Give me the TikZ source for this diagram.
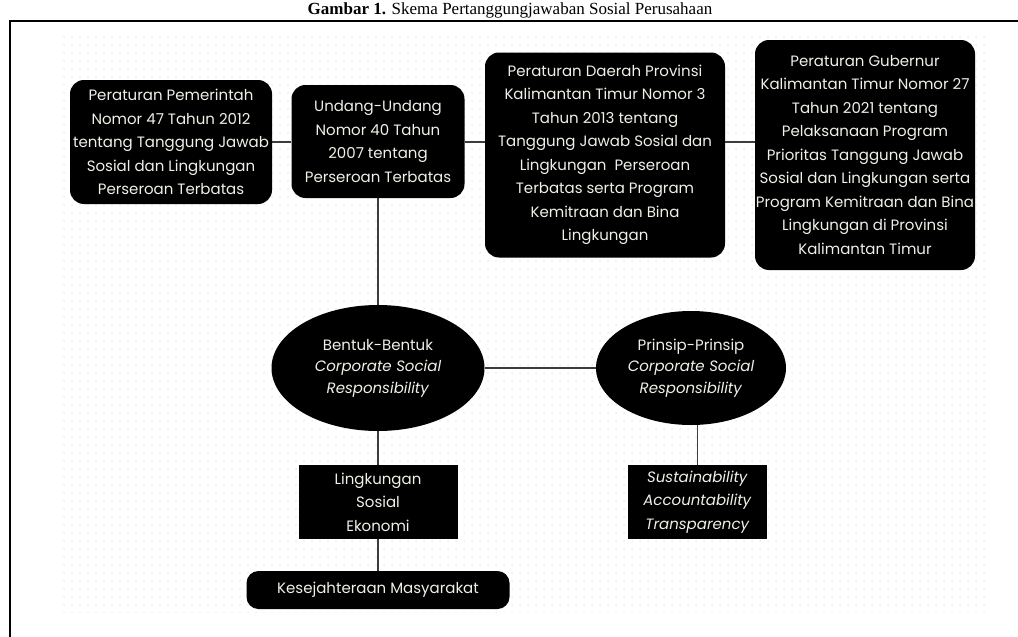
\documentclass[tikz,border=0pt]{standalone}
\usepackage{fontspec}
\setmainfont{Poppins}
\newfontfamily\titlefont{Liberation Serif}
\usepackage{tikz}
\usetikzlibrary{shapes.geometric,patterns.meta}
\definecolor{boxink}{RGB}{0,0,0}
\definecolor{boxtext}{RGB}{240,240,232}
\definecolor{link}{RGB}{60,60,60}
\definecolor{dotgray}{RGB}{220,220,220}

\begin{document}
\begin{tikzpicture}[x=1pt,y=1pt,
  rbox/.style={fill=boxink,text=boxtext,rounded corners=14pt,align=center,inner sep=0pt,
    font=\fontsize{15}{23.5}\selectfont},
  oval/.style={ellipse,fill=boxink,text=boxtext,align=center,inner sep=0pt,
    font=\fontsize{15}{21.5}\selectfont},
  sbox/.style={fill=boxink,text=boxtext,align=center,inner sep=0pt,
    font=\fontsize{15}{23.5}\selectfont},
  link/.style={draw=link,line width=1.4pt}]
\useasboundingbox (0,0) rectangle (1018,-637);
% title and frame
\node[anchor=base,font=\titlefont\fontsize{17}{20}\selectfont] (title) at (510,-14) {\textbf{Gambar 1.} Skema Pertanggungjawaban Sosial Perusahaan};
\draw[line width=2.5pt] (10,-637) |- (1018,-21);
\fill[pattern={Dots[distance=8pt,radius=0.75pt]},pattern color=dotgray] (60,-34) rectangle (990,-612);
% regulations
\node[rbox,minimum width=202,minimum height=124] (pp) at (171,-142)
  {Peraturan Pemerintah\\ Nomor 47 Tahun 2012\\ tentang Tanggung Jawab\\ Sosial dan Lingkungan\\ Perseroan Terbatas};
\node[rbox,minimum width=173,minimum height=113] (uu) at (378,-141.5)
  {Undang-Undang\\ Nomor 40 Tahun\\ 2007 tentang\\ Perseroan Terbatas};
\node[rbox,minimum width=240,minimum height=205] (perda) at (605,-155)
  {Peraturan Daerah Provinsi\\ Kalimantan Timur Nomor 3\\ Tahun 2013 tentang\\ Tanggung Jawab Sosial dan\\ Lingkungan\ \ Perseroan\\ Terbatas serta Program\\ Kemitraan dan Bina\\ Lingkungan};
\node[rbox,minimum width=220,minimum height=230] (pergub) at (865,-155)
  {Peraturan Gubernur\\ Kalimantan Timur Nomor 27\\ Tahun 2021 tentang\\ Pelaksanaan Program\\ Prioritas Tanggung Jawab\\ Sosial dan Lingkungan serta\\ Program Kemitraan dan Bina\\ Lingkungan di Provinsi\\ Kalimantan Timur};
% CSR
\node[oval,minimum width=213,minimum height=126] (bentuk) at (378,-368)
  {Bentuk-Bentuk\\ \textit{Corporate Social}\\ \textit{Responsibility}};
\node[oval,minimum width=190,minimum height=114] (prinsip) at (691,-368)
  {Prinsip-Prinsip\\ \textit{Corporate Social}\\ \textit{Responsibility}};
\node[sbox,minimum width=159,minimum height=74] (lse) at (378,-502)
  {Lingkungan\\ Sosial\\ Ekonomi};
\node[sbox,minimum width=139,minimum height=74] (sat) at (697.5,-502)
  {\textit{Sustainability}\\ \textit{Accountability}\\ \textit{Transparency}};
\node[rbox,rounded corners=12pt,minimum width=263,minimum height=38] (kes) at (378,-590)
  {Kesejahteraan Masyarakat};
% connectors
\draw[link] (pp.east) -- (pp.east -| uu.west);
\draw[link] (pp.east -| uu.east) -- (pp.east -| perda.west);
\draw[link] (pp.east -| perda.east) -- (pp.east -| pergub.west);
\draw[link] (uu.south) -- (bentuk.north);
\draw[link] (bentuk.east) -- (prinsip.west);
\draw[link] (bentuk.south) -- (lse.north);
\draw[link] (lse.south) -- (kes.north);
\draw[link] (sat.north) -- (sat.north |- prinsip.south);
\end{tikzpicture}
\end{document}
